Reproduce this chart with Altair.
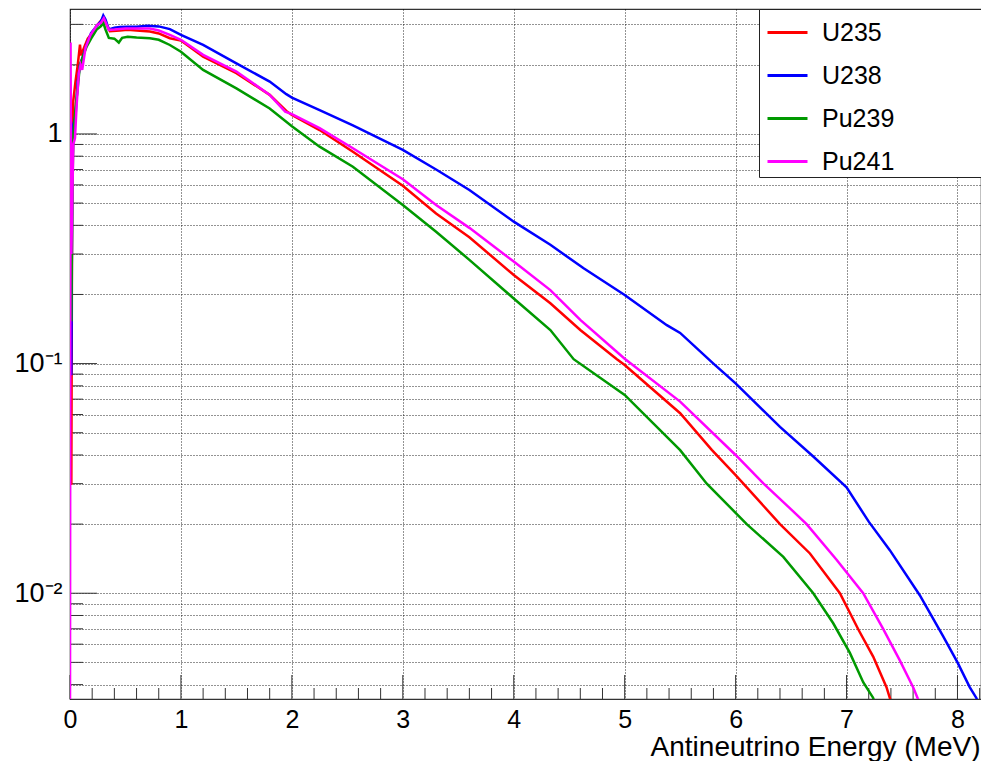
import altair as alt
import pandas as pd

# ---------------- data ----------------
ISOTOPES = ["U235", "U238", "Pu239", "Pu241"]
COLORS = ["#ff0000", "#0000ff", "#009900", "#ff00ff"]

E_U235 = [0.0, 0.012, 0.02, 0.03, 0.05, 0.07, 0.09, 0.10, 0.13, 0.16, 0.20, 0.25, 0.30, 0.33,
          0.36, 0.45, 0.52, 0.60, 0.72, 0.80, 0.90, 1.0, 1.2, 1.5, 1.8, 1.95, 2.0, 2.25, 2.55,
          3.0, 3.3, 3.6, 4.0, 4.33, 4.6, 4.93, 5.0, 5.5, 5.785, 6.0, 6.07, 6.4, 6.67, 6.94,
          7.11, 7.24, 7.36, 7.39, 7.43]
V_U235 = [0.03, 0.03, 0.8, 1.4, 1.7, 2.0, 2.45, 2.2, 2.4, 2.6, 2.75, 3.0, 3.2, 3.0,
          2.8, 2.82, 2.84, 2.82, 2.79, 2.74, 2.61, 2.55, 2.17, 1.84, 1.48, 1.26, 1.21, 1.04, 0.837,
          0.595, 0.45, 0.355, 0.243, 0.183, 0.14, 0.1045, 0.0986, 0.0608, 0.0421, 0.0327, 0.030,
          0.020, 0.0149, 0.010, 0.0069, 0.0053, 0.0039, 0.0035, 0.003]

E_U238 = [0.0, 0.012, 0.02, 0.03, 0.05, 0.07, 0.09, 0.12, 0.15, 0.19, 0.24, 0.28, 0.30, 0.32,
          0.35, 0.40, 0.45, 0.52, 0.60, 0.70, 0.80, 0.90, 1.0, 1.2, 1.5, 1.8, 1.95, 2.0, 2.25,
          2.55, 3.0, 3.3, 3.6, 4.0, 4.33, 4.63, 5.0, 5.38, 5.5, 5.8, 6.0, 6.4, 6.7, 7.0, 7.2,
          7.39, 7.66, 7.87, 8.0, 8.11, 8.17, 8.22]
V_U238 = [0.09, 0.09, 0.6, 1.1, 1.2, 1.7, 2.0, 2.2, 2.45, 2.75, 2.95, 3.1, 3.28, 3.15,
          2.85, 2.9, 2.92, 2.93, 2.93, 2.96, 2.94, 2.86, 2.70, 2.44, 2.03, 1.69, 1.49, 1.44, 1.27,
          1.09, 0.852, 0.70, 0.57, 0.415, 0.329, 0.260, 0.199, 0.147, 0.136, 0.100, 0.082, 0.053,
          0.0394, 0.0289, 0.0205, 0.0154, 0.0098, 0.0065, 0.0050, 0.0039, 0.0035, 0.003]

E_PU239 = [0.0, 0.012, 0.02, 0.03, 0.05, 0.07, 0.09, 0.12, 0.15, 0.19, 0.24, 0.28, 0.30, 0.32,
           0.35, 0.40, 0.44, 0.47, 0.52, 0.60, 0.72, 0.80, 0.90, 1.0, 1.2, 1.5, 1.8, 2.0, 2.25,
           2.55, 3.0, 3.3, 3.6, 4.0, 4.33, 4.54, 5.0, 5.5, 5.74, 6.1, 6.43, 6.7, 6.88, 7.03,
           7.15, 7.24, 7.28]
V_PU239 = [0.155, 0.155, 0.5, 1.0, 1.3, 1.6, 2.0, 2.2, 2.4, 2.6, 2.85, 2.95, 3.05, 2.85,
           2.62, 2.6, 2.5, 2.62, 2.65, 2.63, 2.61, 2.57, 2.44, 2.28, 1.90, 1.58, 1.29, 1.08, 0.88,
           0.72, 0.49, 0.375, 0.283, 0.192, 0.140, 0.1045, 0.073, 0.042, 0.030, 0.020, 0.0144,
           0.010, 0.0074, 0.0055, 0.0041, 0.0035, 0.003]

E_PU241 = [0.0, 0.005, 0.012, 0.02, 0.03, 0.045, 0.06, 0.08, 0.095, 0.11, 0.14, 0.185, 0.245,
           0.28, 0.305, 0.33, 0.35, 0.40, 0.50, 0.60, 0.72, 0.80, 0.90, 1.0, 1.2, 1.5, 1.8, 1.94,
           2.0, 2.25, 2.55, 3.0, 3.3, 3.6, 4.0, 4.33, 4.6, 5.0, 5.5, 6.0, 6.25, 6.5, 6.64, 6.91,
           7.15, 7.33, 7.48, 7.6, 7.64, 7.68]
V_PU241 = [0.003, 2.5, 0.3, 0.5, 0.9, 0.96, 1.34, 1.85, 2.0, 1.9, 2.37, 2.70, 2.98,
           3.05, 3.19, 3.0, 2.84, 2.85, 2.88, 2.88, 2.88, 2.82, 2.70, 2.57, 2.21, 1.87, 1.48, 1.25,
           1.22, 1.06, 0.866, 0.635, 0.49, 0.39, 0.278, 0.209, 0.155, 0.105, 0.0683, 0.040, 0.0301,
           0.0232, 0.020, 0.014, 0.010, 0.007, 0.0051, 0.0039, 0.0035, 0.003]

X_MAJOR = [0, 1, 2, 3, 4, 5, 6, 7, 8]
X_MINOR = [0.2, 0.4, 0.6, 0.8, 1.2, 1.4, 1.6, 1.8, 2.2, 2.4, 2.6, 2.8, 3.2, 3.4, 3.6, 3.8,
           4.2, 4.4, 4.6, 4.8, 5.2, 5.4, 5.6, 5.8, 6.2, 6.4, 6.6, 6.8, 7.2, 7.4, 7.6, 7.8, 8.2]
Y_MAJOR = [0.01, 0.1, 1]
Y_MINOR = [0.004, 0.005, 0.006, 0.007, 0.008, 0.009,
           0.02, 0.03, 0.04, 0.05, 0.06, 0.07, 0.08, 0.09,
           0.2, 0.3, 0.4, 0.5, 0.6, 0.7, 0.8, 0.9, 2, 3]

X_TITLE = "Antineutrino Energy (MeV)"

# ---------------- tables ----------------
series = {"U235": (E_U235, V_U235), "U238": (E_U238, V_U238),
          "Pu239": (E_PU239, V_PU239), "Pu241": (E_PU241, V_PU241)}
rows = []
for iso, (es, vs) in series.items():
    for e, v in zip(es, vs):
        rows.append({"iso": iso, "E": e, "v": v})
df = pd.DataFrame(rows)

W, H = 911, 690
FONT = "Liberation Sans"

xs = alt.Scale(domain=[0, 8.212], nice=False, zero=False)
ys = alt.Scale(type="log", domain=[0.003463, 3.5], nice=False)

xaxis = alt.Axis(values=X_MAJOR, grid=True, gridDash=[1, 2], gridColor="#000000",
                 gridOpacity=0.85, domain=False, ticks=False, tickSize=0,
                 labelFontSize=25, labelFont=FONT, labelColor="#000000", labelPadding=8,
                 labelFlush=False, labelOverlap=False, format="d",
                 title=X_TITLE, titleFont=FONT, titleFontSize=28, titleFontWeight="normal",
                 titleColor="#000000", titleAlign="right", titleBaseline="alphabetic",
                 titleX=910, titleY=56)
yaxis = alt.Axis(values=Y_MAJOR + Y_MINOR, grid=True, gridDash=[1, 2], gridColor="#000000",
                 gridOpacity=0.85, domain=False, ticks=False, tickSize=0,
                 labelFontSize=27, labelFont=FONT, labelColor="#000000", labelPadding=8,
                 labelOverlap=False, labelFlush=False,
                 labelExpr="datum.value == 1 ? '1' : (datum.value == 0.1 ? '10\u207b\u00b9' : "
                           "(datum.value == 0.01 ? '10\u207b\u00b2' : ''))",
                 title="")

cscale = alt.Scale(domain=ISOTOPES, range=COLORS)
legend = alt.Legend(orient="none", legendX=689, legendY=0, title=None,
                    fillColor="white", strokeColor="#222222", padding=2,
                    symbolType="stroke", symbolSize=1600, symbolStrokeWidth=3,
                    symbolOffset=5,
                    labelFontSize=25, labelFont=FONT, labelColor="#000000",
                    labelOffset=13, rowPadding=8, labelLimit=400,
                    labelExpr="datum.label + '" + "\u00a0" * 12 + "\u2009\u200b'")

layers = []
for iso in ISOTOPES:
    layers.append(
        alt.Chart(df).transform_filter(alt.datum.iso == iso)
        .mark_line(strokeWidth=2.5, clip=True)
        .encode(x=alt.X("E:Q", scale=xs, axis=xaxis),
                y=alt.Y("v:Q", scale=ys, axis=yaxis),
                color=alt.Color("iso:N", scale=cscale, legend=legend))
    )

tick_color = "#333333"
xmaj = alt.Chart(pd.DataFrame({"E": X_MAJOR})).mark_rule(color=tick_color, strokeWidth=1).encode(
    x=alt.X("E:Q", scale=xs, axis=xaxis), y=alt.value(H), y2=alt.value(H - 24))
xmin = alt.Chart(pd.DataFrame({"E": X_MINOR})).mark_rule(color=tick_color, strokeWidth=1).encode(
    x=alt.X("E:Q", scale=xs, axis=xaxis), y=alt.value(H), y2=alt.value(H - 11))
ymaj = alt.Chart(pd.DataFrame({"v": Y_MAJOR})).mark_rule(color=tick_color, strokeWidth=1).encode(
    y=alt.Y("v:Q", scale=ys, axis=yaxis), x=alt.value(0), x2=alt.value(27))
ymin = alt.Chart(pd.DataFrame({"v": Y_MINOR})).mark_rule(color=tick_color, strokeWidth=1).encode(
    y=alt.Y("v:Q", scale=ys, axis=yaxis), x=alt.value(0), x2=alt.value(13))

chart = alt.layer(xmaj, xmin, ymaj, ymin, *layers).properties(
    width=W, height=H,
    autosize=alt.AutoSizeParams(type="none"),
    padding={"left": 62, "top": 1, "right": 0, "bottom": 62},
    background="white",
).configure_view(stroke="#333333", strokeWidth=1.2)

chart.save("out.html", embed_options={"renderer": "svg", "actions": False})
